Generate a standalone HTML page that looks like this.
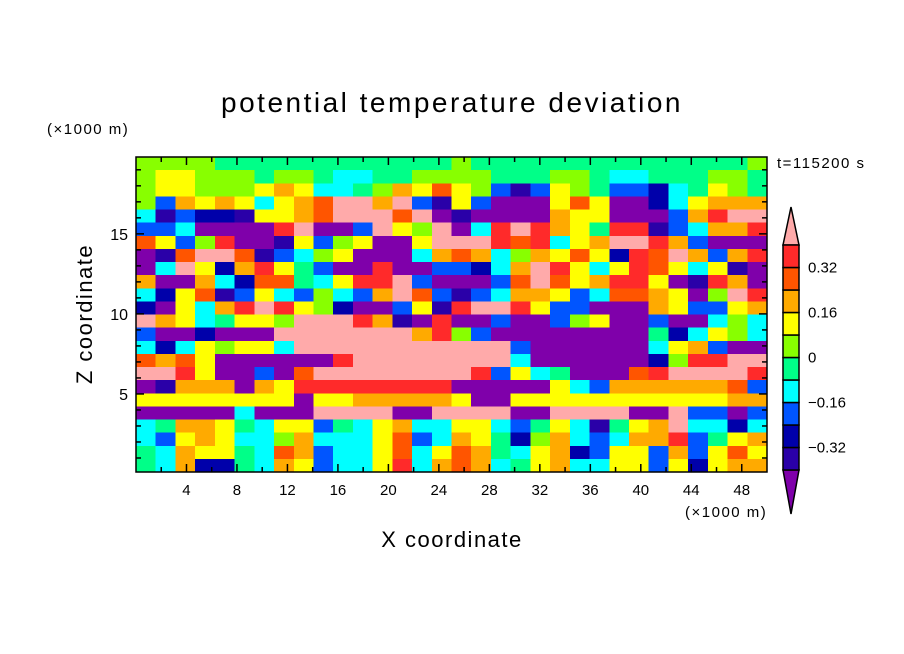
<!DOCTYPE html>
<html><head><meta charset="utf-8"><style>
html,body{margin:0;padding:0;background:#fff;}
svg{display:block;font-family:"Liberation Sans",sans-serif;}
</style></head><body>
<svg id="chart" width="904" height="654" viewBox="0 0 904 654" xmlns="http://www.w3.org/2000/svg">
<rect width="904" height="654" fill="#fff"/>
<text x="452" y="112" text-anchor="middle" font-size="28" letter-spacing="2.5">potential temperature deviation</text>
<text x="47" y="134" font-size="15" letter-spacing="1.5">(×1000 m)</text>
<text x="777" y="168" font-size="15" letter-spacing="1.5">t=115200 s</text>
<text x="92" y="314" font-size="22" letter-spacing="1.5" text-anchor="middle" transform="rotate(-90 92 314)">Z coordinate</text>
<text x="452" y="547" font-size="22" letter-spacing="1.5" text-anchor="middle">X coordinate</text>
<text x="685" y="517" font-size="15" letter-spacing="1.5">(×1000 m)</text>
<g id="field"></g>
<g id="axes"></g>
<g id="cbar"></g>
</svg>
<script>
// field level codes (0..b) on a 32 x 24 grid, top row first
const fieldRows = [
"66665555555555556555555555555556",
"67766656654455666655566544555665",
"67766678744568797631376533245765",
"63878747 89bb8b317300079700247888".replace(' ',''),
"4132217789bbb9b01000087700038abb",
"3340000ab003b76b04aba875aa13488a",
"9736a0017367007bbba9a478bba83000",
"019bb91346700048984687972a9b838a",
"04b728a75300a0033248ba747a974710",
"80084299547aab300039b978aa701a80",
"4279137436438b9313488734998706ba",
"20748aba76200371abba733000873378",
"b8745776bbba810a0030036700300464",
"3002000bbbbbbb8a6300000000524764",
"42476774bbbbbbbbbbb3000000478300",
"9897000000abbbbbbbb400000026aabb",
"bba700309bbbbbbbba37450009abbbba",
"01888087aaaaaaaa0000074388888893",
"77777777077888887007777777777788",
"000004000bbbb00bbbb00bbbb00b3303",
"458875477354784477435741578b4424",
"437874468444793487526843488a3578",
"54877549834479479854782377383797",
"5482254873447a489845784477372788"
];
const levelValues = [-0.44,-0.36,-0.28,-0.2,-0.12,-0.04,0.04,0.12,0.2,0.28,0.36,0.44];
const levelBounds = [-0.4,-0.32,-0.24,-0.16,-0.08,0,0.08,0.16,0.24,0.32,0.4];
const cbarLabels = ["0.32","0.16","0","\u22120.16","\u22120.32"];
const cbarLabelValues = [0.32,0.16,0,-0.16,-0.32];
const xTickLabels = [4,8,12,16,20,24,28,32,36,40,44,48];
const yTickLabels = [5,10,15];
const colors = ["#7f00aa","#2a00a8","#0000aa","#0055ff","#00ffff","#00ff88","#88ff00","#ffff00","#ffaa00","#ff5500","#ff2a2a","#ffaaaa"];

const NS="http://www.w3.org/2000/svg";
const X0=136,X1=767,Y0=157,Y1=472;
const xMin=0,xMax=50,zMin=0.125,zMax=19.8;
function sx(v){return X0+(v-xMin)/(xMax-xMin)*(X1-X0);}
function sy(v){return Y1-(v-zMin)/(zMax-zMin)*(Y1-Y0);}
function colorFor(v){let i=0;while(i<levelBounds.length&&v>=levelBounds[i])i++;return colors[i];}
function mk(tag,attrs,parent){const e=document.createElementNS(NS,tag);for(const k in attrs)e.setAttribute(k,attrs[k]);parent.appendChild(e);return e;}

const field=document.getElementById('field');
const nr=fieldRows.length,nc=fieldRows[0].length;
const dx=(xMax-xMin)/nc,dz=(zMax-zMin)/nr;
for(let r=0;r<nr;r++){
  for(let c=0;c<nc;c++){
    const v=levelValues[parseInt(fieldRows[r][c],16)];
    const x=sx(xMin+c*dx),x2=sx(xMin+(c+1)*dx);
    const y=sy(zMax-r*dz),y2=sy(zMax-(r+1)*dz);
    const e=mk('rect',{x:x,y:y,width:x2-x+0.6,height:y2-y+0.6,fill:colorFor(v),'shape-rendering':'crispEdges'},field);
    
    
  }
}

const axes=document.getElementById('axes');
const frame=mk('rect',{x:X0,y:Y0,width:X1-X0,height:Y1-Y0,fill:'none',stroke:'#000','stroke-width':1.5},axes);


for(let v=2;v<50;v+=2){
  const x=sx(v),len=(v%4===0)?8:5;
  mk('line',{x1:x,y1:Y1,x2:x,y2:Y1-len,stroke:'#000','stroke-width':1.5},axes);
  mk('line',{x1:x,y1:Y0,x2:x,y2:Y0+len,stroke:'#000','stroke-width':1.5},axes);
}
xTickLabels.forEach(v=>{
  const t=mk('text',{x:sx(v),y:Y1+23,'text-anchor':'middle','font-size':15},axes);
  t.textContent=v;
  
  
});
for(let v=1;v<20;v++){
  const y=sy(v),len=(v%5===0)?8:5;
  if(y<Y0||y>Y1)continue;
  mk('line',{x1:X0,y1:y,x2:X0+len,y2:y,stroke:'#000','stroke-width':1.5},axes);
  mk('line',{x1:X1,y1:y,x2:X1-len,y2:y,stroke:'#000','stroke-width':1.5},axes);
}
yTickLabels.forEach(v=>{
  const t=mk('text',{x:X0-8,y:sy(v)+6,'text-anchor':'end','font-size':16},axes);
  t.textContent=v;
  
  
});

const cb=document.getElementById('cbar');
const CX0=783,CX1=799,CT=245,CB=470,cbMin=-0.4,cbMax=0.4;
function cy(v){return CB-(v-cbMin)/(cbMax-cbMin)*(CB-CT);}
const topTri=mk('polygon',{points:`${CX0},${CT} ${CX1},${CT} ${(CX0+CX1)/2},207`,fill:colors[11],stroke:'#000','stroke-width':1.5},cb);


const botTri=mk('polygon',{points:`${CX0},${CB} ${CX1},${CB} ${(CX0+CX1)/2},514`,fill:colors[0],stroke:'#000','stroke-width':1.5},cb);


for(let i=0;i<levelBounds.length-1;i++){
  const b=mk('rect',{x:CX0,y:cy(levelBounds[i+1]),width:CX1-CX0,height:cy(levelBounds[i])-cy(levelBounds[i+1]),fill:colors[i+1],stroke:'#000','stroke-width':1.5},cb);
  
  
}
cbarLabels.forEach((s,i)=>{
  const t=mk('text',{x:808,y:cy(cbarLabelValues[i])+5,'font-size':15},cb);
  t.textContent=s;
  
  
});
</script>
</body></html>
